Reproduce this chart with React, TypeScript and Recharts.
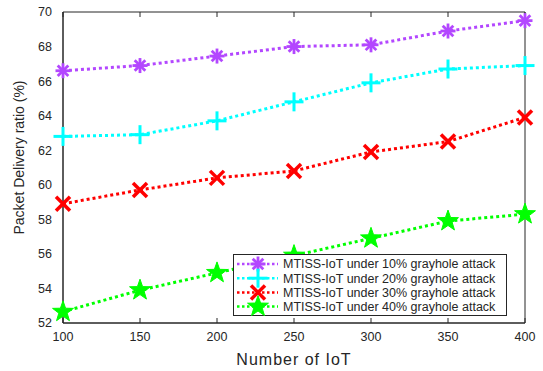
import React from 'react';
import { LineChart, Line, XAxis, YAxis, Label } from 'recharts';

const iotCounts = [100, 150, 200, 250, 300, 350, 400];
const attack10 = [66.6, 66.9, 67.45, 68.0, 68.1, 68.9, 69.5];
const attack20 = [62.8, 62.9, 63.7, 64.8, 65.9, 66.7, 66.9];
const attack30 = [58.9, 59.7, 60.4, 60.8, 61.9, 62.5, 63.9];
const attack40 = [52.65, 53.9, 54.9, 55.9, 56.9, 57.9, 58.3];
const xTicks = [100, 150, 200, 250, 300, 350, 400];
const yTicks = [52, 54, 56, 58, 60, 62, 64, 66, 68, 70];

const data = iotCounts.map((n, i) => ({
  n,
  a10: attack10[i],
  a20: attack20[i],
  a30: attack30[i],
  a40: attack40[i],
}));

type MarkerKind = 'asterisk' | 'plus' | 'cross' | 'star';

function Marker({ kind, cx, cy, color }: { kind: MarkerKind; cx: number; cy: number; color: string }) {
  if (kind === 'asterisk') {
    const r = 7.5;
    const d = r * Math.SQRT1_2;
    return (
      <g stroke={color} strokeWidth={2.8}>
        <line x1={cx - r} y1={cy} x2={cx + r} y2={cy} />
        <line x1={cx} y1={cy - r} x2={cx} y2={cy + r} />
        <line x1={cx - d} y1={cy - d} x2={cx + d} y2={cy + d} />
        <line x1={cx - d} y1={cy + d} x2={cx + d} y2={cy - d} />
      </g>
    );
  }
  if (kind === 'plus') {
    const r = 9.5;
    return (
      <g stroke={color} strokeWidth={3}>
        <line x1={cx - r} y1={cy} x2={cx + r} y2={cy} />
        <line x1={cx} y1={cy - r} x2={cx} y2={cy + r} />
      </g>
    );
  }
  if (kind === 'cross') {
    const r = 7;
    return (
      <g stroke={color} strokeWidth={3.5}>
        <line x1={cx - r} y1={cy - r} x2={cx + r} y2={cy + r} />
        <line x1={cx - r} y1={cy + r} x2={cx + r} y2={cy - r} />
      </g>
    );
  }
  const pts: string[] = [];
  for (let k = 0; k < 10; k++) {
    const rad = k % 2 === 0 ? 11 : 4.4;
    const ang = -Math.PI / 2 + (k * Math.PI) / 5;
    pts.push(`${cx + rad * Math.cos(ang)},${cy + rad * Math.sin(ang)}`);
  }
  return <polygon points={pts.join(' ')} fill={color} stroke={color} strokeWidth={1} />;
}

const seriesList: { key: string; name: string; color: string; marker: MarkerKind }[] = [
  { key: 'a10', name: 'MTISS-IoT under 10% grayhole attack', color: '#b347ff', marker: 'asterisk' },
  { key: 'a20', name: 'MTISS-IoT under 20% grayhole attack', color: '#00ffff', marker: 'plus' },
  { key: 'a30', name: 'MTISS-IoT under 30% grayhole attack', color: '#ff0000', marker: 'cross' },
  { key: 'a40', name: 'MTISS-IoT under 40% grayhole attack', color: '#00ff00', marker: 'star' },
];

const font = 'Liberation Sans, Arial, sans-serif';
const axisColor = '#262626';
const tickStyle = { fontSize: 12.5, fill: axisColor, fontFamily: font };

function LegendBox() {
  return (
    <svg width={275} height={63} style={{ position: 'absolute', left: 233, top: 254 }}>
      <rect x={0.5} y={0.5} width={273} height={61} fill="#fff" stroke={axisColor} strokeWidth={1} />
      {seriesList.map((s, i) => {
        const y = 10 + i * 14.2;
        return (
          <g key={s.key}>
            <line x1={4} y1={y} x2={45} y2={y} stroke={s.color} strokeWidth={2.5} strokeDasharray="2.5 2.5" />
            <Marker kind={s.marker} cx={25} cy={y} color={s.color} />
            <text x={50} y={y + 4.3} fontSize={12.5} fill={axisColor} fontFamily={font}>
              {s.name}
            </text>
          </g>
        );
      })}
    </svg>
  );
}

function YTitle(props: any) {
  const vb = props.viewBox || { x: 0, y: 0, width: 0, height: 0 };
  const x = 19;
  const y = vb.y + vb.height / 2 - 10;
  return (
    <text
      x={x}
      y={y}
      transform={`rotate(-90, ${x}, ${y})`}
      textAnchor="middle"
      dominantBaseline="central"
      fontSize={14}
      fill={axisColor}
      fontFamily={font}
    >
      Packet Delivery ratio (%)
    </text>
  );
}

export default function App() {
  return (
    <div style={{ position: 'absolute', left: 0, top: 0, width: 543, height: 371, background: '#fff' }}>
      <LineChart width={543} height={371} data={data} margin={{ top: 12, right: 18, bottom: 28, left: 23 }}>
        <XAxis
          xAxisId="b"
          dataKey="n"
          type="number"
          domain={[100, 400]}
          ticks={xTicks}
          height={20}
          tickLine={false}
          tickMargin={3}
          stroke={axisColor}
          tick={tickStyle}
          interval={0}
        >
          <Label
            value="Number of IoT"
            position="bottom"
            offset={11}
            style={{ fontSize: 16, letterSpacing: 1, fill: axisColor, fontFamily: font }}
          />
        </XAxis>
        <XAxis
          xAxisId="bm"
          dataKey="n"
          type="number"
          mirror
          domain={[100, 400]}
          ticks={xTicks}
          tickSize={5}
          stroke={axisColor}
          tickFormatter={() => ''}
          interval={0}
        />
        <XAxis
          xAxisId="t"
          dataKey="n"
          type="number"
          orientation="top"
          mirror
          domain={[100, 400]}
          ticks={xTicks}
          tickSize={5}
          stroke={axisColor}
          tickFormatter={() => ''}
          interval={0}
        />
        <YAxis
          yAxisId="l"
          type="number"
          domain={[52, 70]}
          ticks={yTicks}
          width={40}
          tickLine={false}
          tickMargin={5}
          stroke={axisColor}
          tick={tickStyle}
          interval={0}
        >
          <Label content={<YTitle />} />
        </YAxis>
        <YAxis
          yAxisId="lm"
          type="number"
          mirror
          domain={[52, 70]}
          ticks={yTicks}
          tickSize={5}
          stroke={axisColor}
          tickFormatter={() => ''}
          interval={0}
        />
        <YAxis
          yAxisId="r"
          type="number"
          orientation="right"
          mirror
          domain={[52, 70]}
          ticks={yTicks}
          tickSize={5}
          stroke={axisColor}
          tickFormatter={() => ''}
          interval={0}
        />
        {seriesList.map((s) => (
          <Line
            key={s.key}
            xAxisId="b"
            yAxisId="l"
            dataKey={s.key}
            name={s.name}
            stroke={s.color}
            strokeWidth={3}
            strokeDasharray="3 3"
            type="linear"
            isAnimationActive={false}
            dot={(p: any) => <Marker key={`${s.key}-${p.index}`} kind={s.marker} cx={p.cx} cy={p.cy} color={s.color} />}
            activeDot={false}
          />
        ))}
      </LineChart>
      <LegendBox />
    </div>
  );
}
